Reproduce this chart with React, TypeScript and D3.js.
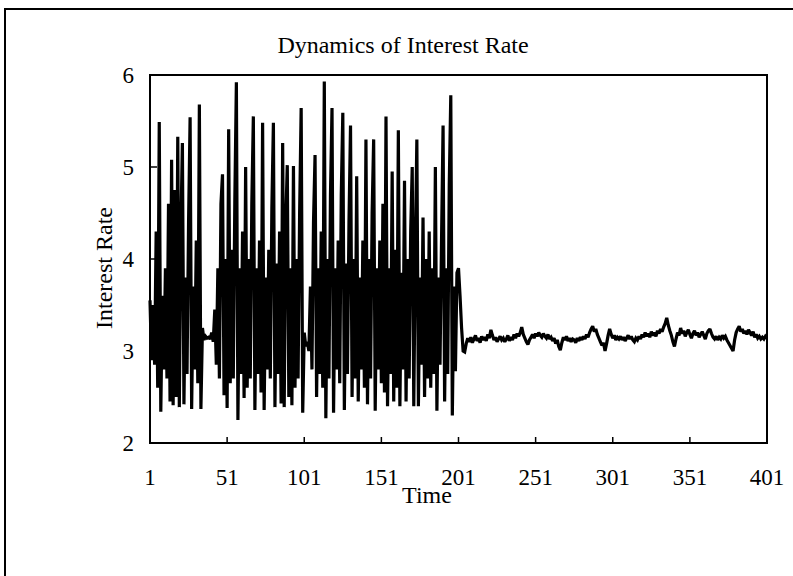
import React from "react";
import * as d3 from "d3";

// Interest rate, t = 1 .. 207 (chaotic phase and transition)
const chaoticPhase: number[] = [
  3.55, 2.9, 3.5, 2.85, 4.3, 2.6, 5.49, 2.34, 3.6, 2.8,
  3.9, 2.7, 4.6, 2.45, 5.08, 2.41, 4.75, 2.5, 5.33, 2.39,
  4.3, 5.26, 2.42, 3.8, 2.75, 4.4, 5.54, 2.37, 3.7, 2.8,
  4.2, 2.65, 5.68, 2.37, 3.25, 3.12, 3.16, 3.14, 3.15, 3.13,
  3.2, 3.1, 3.45, 2.85, 3.9, 2.7, 4.6, 4.92, 2.52, 4.0,
  2.38, 5.41, 2.65, 4.1, 2.7, 4.65, 5.92, 2.25, 3.9, 2.75,
  4.3, 2.49, 5.0, 2.6, 4.0, 2.7, 4.6, 5.55, 2.36, 3.9,
  2.75, 4.2, 2.55, 5.48, 2.36, 3.8, 2.8, 4.1, 2.7, 4.55,
  5.48, 2.39, 3.95, 2.75, 4.3, 2.43, 5.26, 2.39, 4.4, 5.02,
  2.5, 3.9, 2.41, 5.01, 2.6, 4.0, 2.7, 4.5, 5.64, 2.33,
  3.2, 3.05, 3.1, 3.0, 3.7, 2.8, 4.4, 5.13, 2.5, 3.9,
  2.75, 4.3, 2.6, 5.93, 2.27, 4.0, 2.7, 4.7, 5.64, 2.33,
  3.9, 2.8, 4.2, 2.65, 4.7, 5.59, 2.36, 3.95, 2.75, 4.4,
  5.45, 2.5, 4.0, 2.7, 4.9, 2.45, 3.8, 2.8, 4.2, 2.6,
  5.3, 2.42, 4.0, 2.7, 4.5, 5.3, 2.35, 3.9, 2.8, 4.2,
  2.65, 4.6, 2.55, 5.55, 2.4, 3.9, 2.75, 4.95, 2.45, 4.1,
  2.6, 5.4, 2.4, 3.85, 2.8, 4.85, 2.45, 4.0, 2.7, 4.3,
  5.0, 2.4, 4.1, 5.3, 2.4, 3.8, 2.85, 4.45, 2.5, 4.0,
  2.7, 4.3, 2.6, 3.9, 2.75, 5.0, 2.35, 3.8, 2.85, 4.2,
  5.45, 2.45, 3.9, 2.75, 4.8, 5.78, 2.3, 3.7, 2.78, 3.85,
  3.9, 3.6, 3.25, 3.0, 2.99, 3.08, 3.14,
];

// Interest rate, t = 208 .. 401 (stable phase)
const stablePhase: number[] = [
  3.10, 3.15, 3.09, 3.13, 3.17, 3.11, 3.14, 3.09, 3.16, 3.12,
  3.15, 3.11, 3.18, 3.14, 3.23, 3.17, 3.12, 3.15, 3.10, 3.13,
  3.16, 3.12, 3.14, 3.10, 3.13, 3.17, 3.11, 3.15, 3.12, 3.18,
  3.14, 3.19, 3.16, 3.20, 3.26, 3.18, 3.14, 3.10, 3.07, 3.12,
  3.15, 3.18, 3.14, 3.19, 3.16, 3.20, 3.17, 3.15, 3.19, 3.16,
  3.14, 3.18, 3.13, 3.15, 3.11, 3.14, 3.08, 3.12, 3.05, 3.01,
  3.09, 3.15, 3.12, 3.16, 3.11, 3.14, 3.10, 3.13, 3.12, 3.09,
  3.14, 3.11, 3.15, 3.12, 3.16, 3.13, 3.18, 3.15, 3.20, 3.24,
  3.27, 3.21, 3.24, 3.18, 3.14, 3.10, 3.06, 3.09, 3.00, 3.08,
  3.17, 3.24, 3.18, 3.14, 3.17, 3.12, 3.15, 3.13, 3.16, 3.12,
  3.15, 3.11, 3.14, 3.17, 3.13, 3.16, 3.12, 3.10, 3.14, 3.12,
  3.16, 3.13, 3.18, 3.15, 3.20, 3.16, 3.19, 3.15, 3.21, 3.17,
  3.20, 3.16, 3.22, 3.19, 3.24, 3.21, 3.26, 3.30, 3.36, 3.28,
  3.22, 3.17, 3.10, 3.05, 3.13, 3.20, 3.17, 3.25, 3.19, 3.22,
  3.16, 3.20, 3.23, 3.18, 3.14, 3.19, 3.22, 3.17, 3.20, 3.15,
  3.18, 3.21, 3.17, 3.13, 3.19, 3.22, 3.24, 3.19, 3.15, 3.13,
  3.16, 3.12, 3.15, 3.13, 3.17, 3.14, 3.16, 3.12, 3.09, 3.06,
  3.03, 3.00, 3.12, 3.20, 3.24, 3.27, 3.21, 3.24, 3.19, 3.22,
  3.18, 3.23, 3.20, 3.17, 3.21, 3.15, 3.18, 3.14, 3.16, 3.13,
  3.15, 3.13, 3.16, 3.14,
];

const timeTicks: number[] = [1, 51, 101, 151, 201, 251, 301, 351, 401];
const rateTicks: number[] = [2, 3, 4, 5, 6];

const W = 793;
const H = 576;
const FONT = "'Liberation Serif', 'Times New Roman', serif";

export default function App() {
  const rates = [...chaoticPhase, ...stablePhase];
  const data = rates.map((v, i) => ({ t: i + 1, v }));

  const x = d3.scaleLinear().domain([1, 401]).range([150, 767]);
  const y = d3.scaleLinear().domain([2, 6]).range([443, 75]);

  const line = d3
    .line<{ t: number; v: number }>()
    .x((d) => x(d.t))
    .y((d) => y(d.v));

  return (
    <svg
      width={W}
      height={H}
      style={{ position: "absolute", left: 0, top: 0, background: "#fff" }}
      fontFamily={FONT}
    >
      <rect x={0} y={0} width={W} height={H} fill="#fff" />
      {/* outer frame */}
      <path d={`M5,${H} L5,9 L${W},9`} fill="none" stroke="#000" strokeWidth={2} />

      {/* title */}
      <text x={403} y={53} fontSize={24} textAnchor="middle" fill="#000">
        Dynamics of Interest Rate
      </text>

      {/* series */}
      <path d={line(data) || ""} fill="none" stroke="#000" strokeWidth={3.2} strokeLinejoin="miter" strokeMiterlimit={2} />

      {/* plot frame */}
      <rect x={150} y={75} width={617} height={368} fill="none" stroke="#000" strokeWidth={2} />

      {/* x ticks */}
      {timeTicks.map((t) => (
        <g key={"xt" + t}>
          <line x1={x(t)} x2={x(t)} y1={443} y2={437} stroke="#000" strokeWidth={1.5} />
          <text x={x(t)} y={485} fontSize={23} textAnchor="middle" fill="#000">
            {t}
          </text>
        </g>
      ))}

      {/* y ticks */}
      {rateTicks.map((r) => (
        <g key={"yt" + r}>
          <line x1={150} x2={157} y1={y(r)} y2={y(r)} stroke="#000" strokeWidth={1.5} />
          <text x={134} y={y(r) + 8} fontSize={23} textAnchor="end" fill="#000">
            {r}
          </text>
        </g>
      ))}

      {/* axis titles */}
      <text x={427} y={503} fontSize={24} textAnchor="middle" fill="#000">
        Time
      </text>
      <text
        transform={`translate(112,268) rotate(-90)`}
        fontSize={24}
        textAnchor="middle"
        fill="#000"
      >
        Interest Rate
      </text>
    </svg>
  );
}
